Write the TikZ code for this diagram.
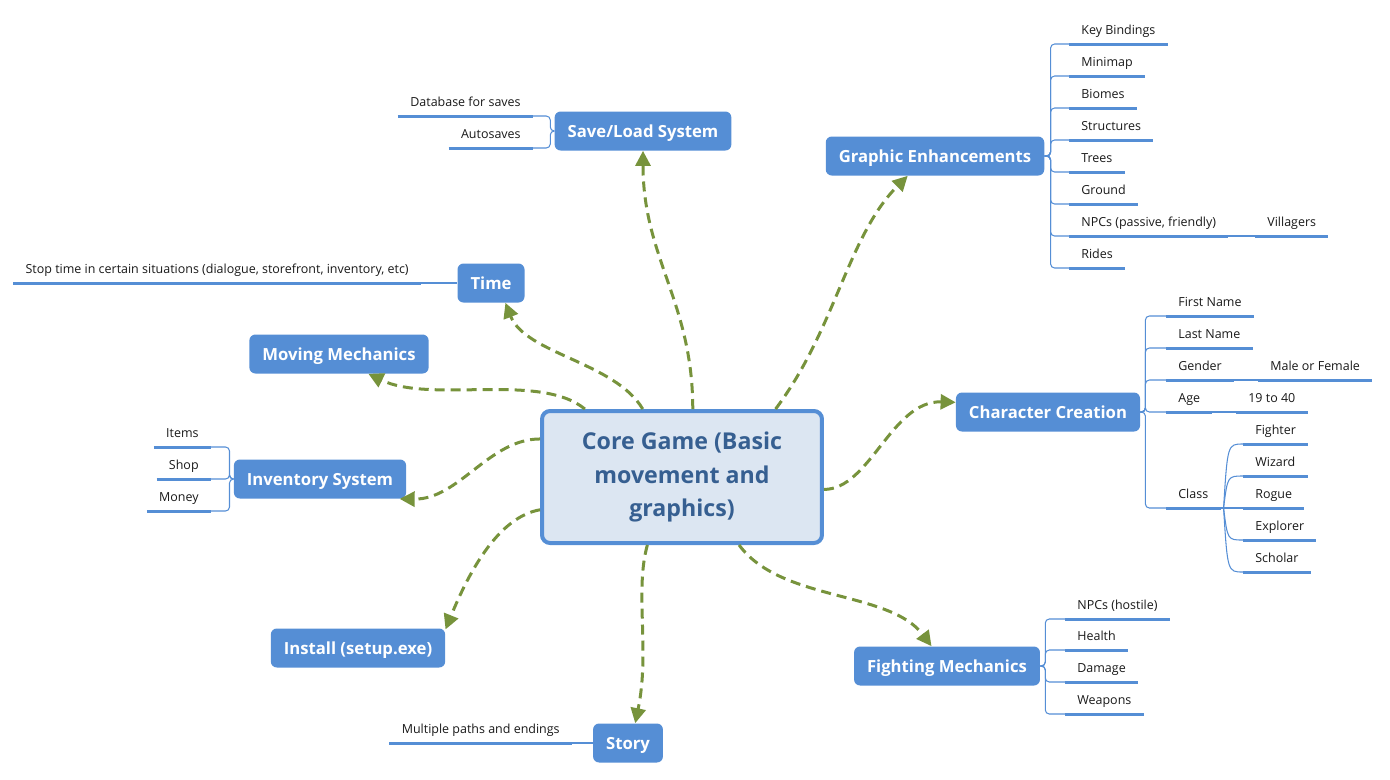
\documentclass[tikz,border=0pt]{standalone}
\usepackage{fontspec}
\setmainfont{Open Sans}
\usetikzlibrary{arrows.meta,positioning,calc}
\definecolor{topicblue}{RGB}{85,142,213}
\definecolor{corefill}{RGB}{220,230,242}
\definecolor{coretext}{RGB}{54,95,145}
\definecolor{linkgreen}{RGB}{119,147,60}

\begin{document}
\begin{tikzpicture}[x=0.02cm,y=-0.02cm,
  core/.style={draw=topicblue,line width=0.08cm,fill=corefill,rounded corners=0.16cm,minimum width=5.6cm,minimum height=2.64cm,align=center,font=\fontsize{13.2}{19}\selectfont\bfseries,text=coretext},
  topic/.style={fill=topicblue,rounded corners=0.12cm,minimum height=0.78cm,inner xsep=0.26cm,font=\fontsize{9.5}{11}\selectfont\bfseries,text=white,text height=0.72em,text depth=0pt},
  leaf/.style={inner xsep=0.24cm,inner ysep=3pt,font=\fontsize{7.1}{8}\selectfont,text=black!90,text height=0.72em,text depth=0.22em},
  uline/.style={topicblue,line width=0.06cm},
  branch/.style={topicblue,line width=0.6pt,rounded corners=0.08cm},
  link/.style={linkgreen,line width=0.06cm,dash pattern=on 0.2cm off 0.12cm,-{Triangle[length=0.3cm,width=0.3cm]}}]
\useasboundingbox (0,0) rectangle (1390,779);

% central topic
\node[core] (core) at (682,477) {Core Game (Basic\\movement and\\graphics)};

% main topics
\node[topic] (sl) at (643,131) {Save/Load System};
\node[topic] (ge) at (935,156) {Graphic Enhancements};
\node[topic] (tm) at (491,283) {Time};
\node[topic] (mv) at (339,354) {Moving Mechanics};
\node[topic] (inv) at (320,479) {Inventory System};
\node[topic] (ins) at (358,648) {Install (setup.exe)};
\node[topic] (st) at (628,743) {Story};
\node[topic] (fm) at (947,666) {Fighting Mechanics};
\node[topic] (cc) at (1048,412) {Character Creation};

% dashed links from the core
\draw[link] (core.81) .. controls +(0,-107) and +(0,107) .. (sl.south);
\draw[link] (core.36) .. controls +(60,-80) and +(-60,60) .. (ge.216);
\draw[link] (core.120) .. controls +(-28,-47) and +(20,51) .. (tm.306);
\draw[link] (core.145) .. controls +(-45,-37) and +(62,30) .. (mv.326);
\draw[link] (core.165) .. controls +(-51,0) and +(59,1) .. (inv.346);
\draw[link] (core.193) .. controls +(-41,7) and +(24,-59) .. (ins.12);
\draw[link] (core.243) .. controls +(-13,47) and +(15,-73) .. (st.70);
\draw[link] (core.310) .. controls +(42,57) and +(-42,-56) .. (fm.128);
\draw[link] (core.355) .. controls +(46,0) and +(-64,-2) .. (cc.174);

% save/load
\foreach \n/\t/\y in {db/Database for saves/116, au/Autosaves/148}{
  \node[leaf,anchor=south east] (\n) at (533,\y) {\t};
  \draw[uline] (\n.south west) -- (\n.south east);
  \draw[branch] (sl.west) -- ++(-4,0) |- (\n.south east);
}

% graphic enhancements
\foreach \n/\t [count=\i] in {kb/Key Bindings, mp/Minimap, bi/Biomes, su/Structures, tr/Trees, gr/Ground, np/{NPCs (passive, friendly)}, ri/Rides}{
  \node[leaf,anchor=south west] (\n) at (1069,12+32*\i) {\t};
  \draw[uline] (\n.south west) -- (\n.south east);
  \draw[branch] (ge.east) -- ++(6,0) |- (\n.south west);
}
\node[leaf,anchor=south west] (vi) at (1255,236) {Villagers};
\draw[uline] (vi.south west) -- (vi.south east);
\draw[branch] (np.south east) -- (vi.south west);

% character creation
\foreach \n/\t/\y in {fn/First Name/316, ln/Last Name/348, gd/Gender/380, ag/Age/412, cl/Class/508}{
  \node[leaf,anchor=south west] (\n) at (1166,\y) {\t};
  \draw[uline] (\n.south west) -- (\n.south east);
  \draw[branch] (cc.east) -- ++(5,0) |- (\n.south west);
}
\node[leaf,anchor=south west] (mf) at (1258,380) {Male or Female};
\draw[uline] (mf.south west) -- (mf.south east);
\draw[branch] (gd.south east) -- (mf.south west);
\node[leaf,anchor=south west] (ya) at (1236,412) {19 to 40};
\draw[uline] (ya.south west) -- (ya.south east);
\draw[branch] (ag.south east) -- (ya.south west);
\coordinate (cj) at ([xshift=0.06cm]cl.south east);
\coordinate (ck) at ([xshift=0.14cm]cl.south east);
\draw[branch] (cl.south east) -- (cj);
\foreach \n/\t [count=\i] in {fi/Fighter, wz/Wizard, ro/Rogue, ex/Explorer, sc/Scholar}{
  \node[leaf,anchor=south west] (\n) at (1243,412+32*\i) {\t};
  \draw[uline] (\n.south west) -- (\n.south east);
  \draw[branch] (cj) .. controls (ck |- \n.south west) .. (\n.south west);
}

% fighting mechanics
\foreach \n/\t/\y in {nh/NPCs (hostile)/619, he/Health/650, dm/Damage/682, wp/Weapons/714}{
  \node[leaf,anchor=south west] (\n) at (1065,\y) {\t};
  \draw[uline] (\n.south west) -- (\n.south east);
  \draw[branch] (fm.east) -- ++(5,0) |- (\n.south west);
}

% time
\node[leaf,anchor=south east] (sv) at (421,283) {Stop time in certain situations (dialogue, storefront, inventory, etc)};
\draw[uline] (sv.south west) -- (sv.south east);
\draw[branch] (tm.west) -- (sv.south east);

% inventory
\foreach \n/\t/\y in {it/Items/447, sh/Shop/479, mo/Money/511}{
  \node[leaf,anchor=south east] (\n) at (211,\y) {\t};
  \draw[uline] (\n.south west) -- (\n.south east);
  \draw[branch] (inv.west) -- ++(-4,0) |- (\n.south east);
}

% story
\node[leaf,anchor=south east] (mu) at (572,743) {Multiple paths and endings};
\draw[uline] (mu.south west) -- (mu.south east);
\draw[branch] (st.west) -- (mu.south east);
\end{tikzpicture}
\end{document}
